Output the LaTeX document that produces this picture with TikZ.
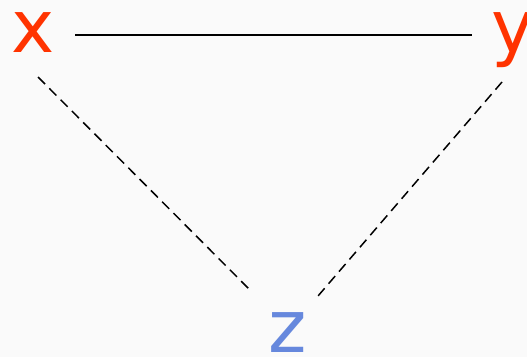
\documentclass[tikz,border=0pt]{standalone}
\usepackage{fontspec}
\setmainfont{DejaVu Sans}
\definecolor{bg}{HTML}{FAFAFA}
\definecolor{red}{HTML}{FF3300}
\definecolor{blu}{HTML}{6688DD}
\begin{document}
\begin{tikzpicture}[x=1pt,y=-1pt,
  lbl/.style={inner sep=0pt,anchor=base,text height=40pt,text depth=0pt,font=\fontsize{73}{73}\selectfont},
  edge/.style={line width=1.5pt},
  dedge/.style={line width=1.5pt,dash pattern=on 10pt off 6pt}]
\fill[bg] (0,0) rectangle (527,357);
\useasboundingbox (0,0) rectangle (527,357);
\node[lbl,text=red] (x) at (33,52) {x};
\node[lbl,text=red] (y) at (513,52) {y};
\node[lbl,text=blu] (z) at (288,352) {z};
\coordinate (xr) at (75,35);
\coordinate (yl) at (472,35);
\coordinate (xb) at (38,77);
\coordinate (zl) at (252,292);
\coordinate (yb) at (502,82);
\coordinate (zr) at (318,296);
\draw[edge] (xr) -- (yl);
\draw[dedge] (xb) -- (zl);
\draw[dedge] (yb) -- (zr);
\end{tikzpicture}
\end{document}
